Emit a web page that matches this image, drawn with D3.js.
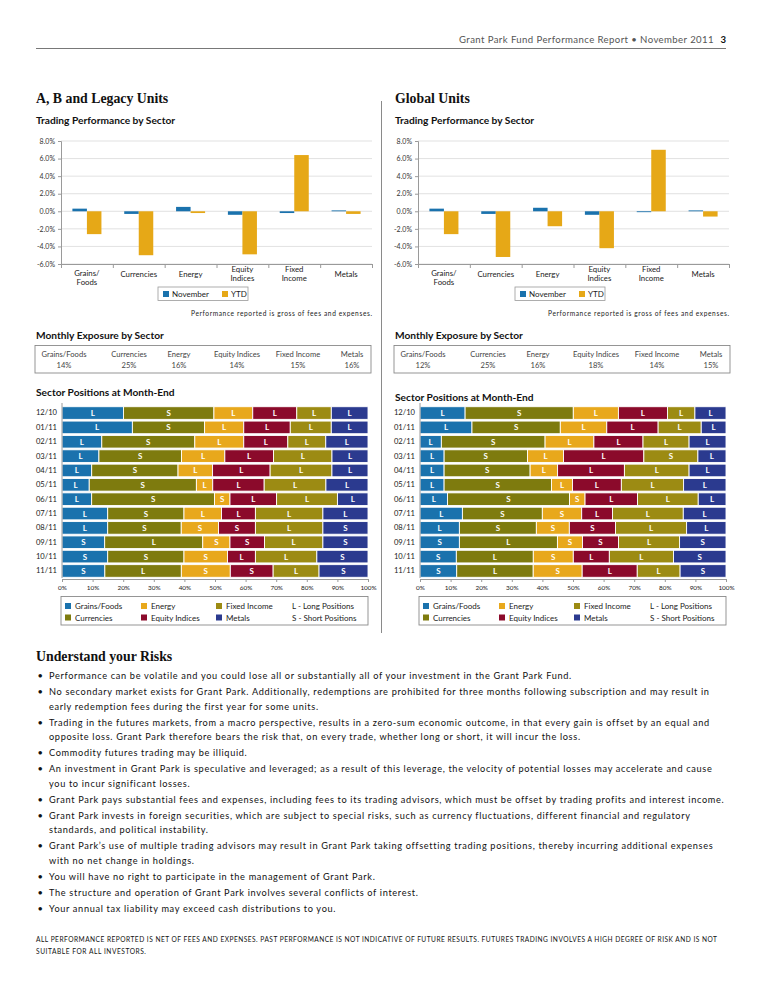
<!DOCTYPE html>
<html lang="en">
<head>
<meta charset="UTF-8">
<title>Grant Park Fund Performance Report</title>
<script src="https://cdnjs.cloudflare.com/ajax/libs/d3/7.8.2/d3.min.js"></script>
<style>
    body{ margin:0; background:#fff; }
    svg{ display:block; font-family: Lato, "Open Sans", sans-serif; }
    .serif{ font-family: "Liberation Serif", "DejaVu Serif", serif; font-weight:bold; }
</style>
</head>
<body>
<div class="container"></div>
<script>
    //data
    let sectors = ['Grains/Foods', 'Currencies', 'Energy', 'Equity Indices', 'Fixed Income', 'Metals'];
    let perfLabels = [['Grains/', 'Foods'], ['Currencies'], ['Energy'], ['Equity', 'Indices'], ['Fixed', 'Income'], ['Metals']];
    let perfTicks = [-6, -4, -2, 0, 2, 4, 6, 8];

    let abNovember = [0.3, -0.3, 0.5, -0.4, -0.2, 0.1];
    let abYTD = [-2.6, -5.0, -0.2, -4.9, 6.4, -0.3];
    let globalNovember = [0.3, -0.3, 0.4, -0.4, -0.1, 0.1];
    let globalYTD = [-2.6, -5.2, -1.7, -4.2, 7.0, -0.6];

    let abExposure = [14, 25, 16, 14, 15, 16];
    let globalExposure = [12, 25, 16, 18, 14, 15];

    let months = ['12/10', '01/11', '02/11', '03/11', '04/11', '05/11', '06/11', '07/11', '08/11', '09/11', '10/11', '11/11'];
    let positionTicks = [0, 0.1, 0.2, 0.3, 0.4, 0.5, 0.6, 0.7, 0.8, 0.9, 1];

    // share of each sector per month (Grains, Currencies, Energy, Equity, Fixed Income, Metals)
    let abPositions = [
        [20.1, 29.6, 12.7, 14.4, 11.3, 12.0],
        [23.0, 23.6, 12.8, 15.2, 13.4, 12.0],
        [13.0, 30.4, 16.0, 14.4, 12.4, 13.8],
        [12.2, 27.3, 14.3, 16.1, 19.3, 11.9],
        [9.8, 28.5, 11.4, 19.0, 20.4, 11.9],
        [9.0, 35.4, 5.4, 17.0, 20.4, 13.9],
        [9.8, 40.6, 5.1, 15.4, 20.1, 10.1],
        [15.1, 25.2, 12.4, 11.2, 22.3, 14.9],
        [15.1, 24.3, 12.3, 12.2, 22.3, 14.9],
        [14.1, 32.4, 9.0, 11.4, 19.3, 14.9],
        [15.1, 25.2, 14.4, 9.2, 20.3, 16.9],
        [14, 25, 16, 14, 15, 16]
    ];
    let abSides = ['LSLLLL', 'LSLLLL', 'LSLLLL', 'LSLLLL', 'LSLLLL', 'LSLLLL',
                   'LSSLLL', 'LSLLLL', 'LSSSLS', 'SLSSLS', 'SSSLLS', 'SLSSLS'];

    let globalPositions = [
        [14.8, 35.5, 14.8, 16.1, 9.0, 10.2],
        [17.0, 28.9, 15.2, 16.8, 14.1, 8.1],
        [7.0, 34.0, 16.0, 16.1, 15.1, 12.1],
        [7.9, 27.3, 11.8, 26.3, 17.7, 9.2],
        [7.9, 28.2, 9.0, 21.9, 21.2, 12.1],
        [7.9, 35.2, 6.9, 16.0, 20.4, 13.9],
        [9.0, 40.0, 5.1, 17.2, 19.9, 9.1],
        [13.9, 26.2, 12.9, 10.1, 23.2, 14.0],
        [12.9, 25.2, 10.8, 15.1, 23.3, 12.9],
        [12.9, 32.1, 8.2, 11.8, 20.0, 15.2],
        [11.9, 25.2, 13.1, 11.8, 21.0, 17.2],
        [12, 25, 16, 18, 14, 15]
    ];
    let globalSides = ['LSLLLL', 'LSLLLL', 'LSLLLL', 'LSLLSL', 'LSLLLL', 'LSLLLL',
                       'LSSLLL', 'LSSLLL', 'LSSSLL', 'SLSSLS', 'SLSLLS', 'SLSLLS'];

    let risks = [
        ['Performance can be volatile and you could lose all or substantially all of your investment in the Grant Park Fund.'],
        ['No secondary market exists for Grant Park. Additionally, redemptions are prohibited for three months following subscription and may result in',
         'early redemption fees during the first year for some units.'],
        ['Trading in the futures markets, from a macro perspective, results in a zero-sum economic outcome, in that every gain is offset by an equal and',
         'opposite loss. Grant Park therefore bears the risk that, on every trade, whether long or short, it will incur the loss.'],
        ['Commodity futures trading may be illiquid.'],
        ['An investment in Grant Park is speculative and leveraged; as a result of this leverage, the velocity of potential losses may accelerate and cause',
         'you to incur significant losses.'],
        ['Grant Park pays substantial fees and expenses, including fees to its trading advisors, which must be offset by trading profits and interest income.'],
        ['Grant Park invests in foreign securities, which are subject to special risks, such as currency fluctuations, different financial and regulatory',
         'standards, and political instability.'],
        ['Grant Park\u2019s use of multiple trading advisors may result in Grant Park taking offsetting trading positions, thereby incurring additional expenses',
         'with no net change in holdings.'],
        ['You will have no right to participate in the management of Grant Park.'],
        ['The structure and operation of Grant Park involves several conflicts of interest.'],
        ['Your annual tax liability may exceed cash distributions to you.']
    ];
    let footer = ['ALL PERFORMANCE REPORTED IS NET OF FEES AND EXPENSES. PAST PERFORMANCE IS NOT INDICATIVE OF FUTURE RESULTS. FUTURES TRADING INVOLVES A HIGH DEGREE OF RISK AND IS NOT',
                  'SUITABLE FOR ALL INVESTORS.'];

    //styles
    let sectorColors = ['#1a72ad', '#7e7b0e', '#e8a81c', '#8b0a2b', '#9c8b13', '#2b3a8f'];
    let novColor = '#1a72ad';
    let ytdColor = '#e6a817';

    let width = 765;
    let height = 990;

    let svg = d3.select('.container').append('svg')
                .attr('width', width).attr('height', height);

    //page header
    svg.append('text').attr('x', 714).attr('y', 43).attr('text-anchor', 'end')
       .attr('font-size', 9.6).attr('fill', '#555').attr('letter-spacing', 0.4)
       .text('Grant Park Fund Performance Report \u2022 November 2011');
    svg.append('text').attr('x', 726).attr('y', 43).attr('text-anchor', 'end')
       .attr('font-size', 9.6).attr('font-weight', 'bold').attr('fill', '#111').text('3');
    svg.append('line').attr('x1', 36).attr('x2', 726).attr('y1', 48.5).attr('y2', 48.5)
       .attr('stroke', '#555').attr('stroke-width', 0.8);

    // divider
    svg.append('line').attr('x1', 381.5).attr('x2', 381.5).attr('y1', 101).attr('y2', 633)
       .attr('stroke', '#8a8a8a').attr('stroke-width', 1);

    const heading = (x, y, txt) => {
        svg.append('text').attr('class', 'serif').attr('x', x).attr('y', y)
           .attr('font-size', 13.8).attr('fill', '#111').text(txt);
    }
    const subHeading = (x, y, txt) => {
        svg.append('text').attr('x', x).attr('y', y).attr('font-size', 10.2)
           .attr('font-weight', 'bold').attr('fill', '#111').text(txt);
    }

    const drawPerformance = (left, nov, ytd) => {
        let plotW = 311;
        let g = svg.append('g');

        let x0 = d3.scaleBand().domain(sectors).range([left, left + plotW])
                   .paddingInner(0.44).paddingOuter(0.22);
        let x1 = d3.scaleBand().domain(['nov', 'ytd']).range([0, x0.bandwidth()]);
        let y = d3.scaleLinear().domain([-6, 8]).range([264, 141]);

        g.append('g').selectAll('line').data(perfTicks).enter().append('line')
         .attr('x1', left).attr('x2', left + plotW)
         .attr('y1', d => y(d)).attr('y2', d => y(d))
         .attr('stroke', '#d9d9d9').attr('stroke-width', 0.8);

        let yAxis = d3.axisLeft(y).tickValues(perfTicks).tickSize(3).tickPadding(3)
                      .tickFormat(d => d.toFixed(1) + '%');
        let gy = g.append('g').attr('transform', `translate(${left},0)`).call(yAxis);
        gy.selectAll('path,line').attr('stroke', '#9a9a9a');
        gy.selectAll('text').attr('font-size', 7).attr('fill', '#333').attr('font-family', 'Lato');

        let bounds = d3.scaleLinear().domain([0, sectors.length]).range([left, left + plotW]);
        let xAxis = d3.axisBottom(bounds).tickValues(d3.range(sectors.length + 1)).tickSize(4).tickFormat('');
        let gx = g.append('g').attr('transform', `translate(0,${y(-6)})`).call(xAxis);
        gx.selectAll('path,line').attr('stroke', '#9a9a9a');

        let groups = g.selectAll('.grp').data(sectors).enter().append('g')
                      .attr('transform', d => `translate(${x0(d)},0)`);
        groups.append('rect')
              .attr('x', x1('nov')).attr('width', x1.bandwidth())
              .attr('y', (d, i) => y(Math.max(0, nov[i])))
              .attr('height', (d, i) => Math.abs(y(nov[i]) - y(0)))
              .attr('fill', novColor);
        groups.append('rect')
              .attr('x', x1('ytd')).attr('width', x1.bandwidth())
              .attr('y', (d, i) => y(Math.max(0, ytd[i])))
              .attr('height', (d, i) => Math.abs(y(ytd[i]) - y(0)))
              .attr('fill', ytdColor);

        // category labels
        g.selectAll('.cat').data(perfLabels).enter().append('text')
         .attr('text-anchor', 'middle').attr('font-size', 7.8).attr('fill', '#222')
         .attr('x', (d, i) => x0(sectors[i]) + x0.bandwidth() / 2)
         .attr('y', (d, i) => d.length > 1 ? (i === 0 ? 276 : 272) : 277)
         .each(function (d) {
             let t = d3.select(this);
             d.forEach((line, k) => {
                 t.append('tspan').attr('x', t.attr('x')).attr('dy', k === 0 ? 0 : 8.8).text(line);
             });
         });

        // legend
        let lx = left + 97;
        g.append('rect').attr('x', lx).attr('y', 287).attr('width', 90).attr('height', 13.5)
         .attr('fill', 'none').attr('stroke', '#9a9a9a').attr('stroke-width', 0.8);
        [['November', novColor, 5], ['YTD', ytdColor, 64]].forEach(item => {
            g.append('rect').attr('x', lx + item[2]).attr('y', 291).attr('width', 6).attr('height', 6).attr('fill', item[1]);
            g.append('text').attr('x', lx + item[2] + 9).attr('y', 297).attr('font-size', 8).attr('fill', '#222').text(item[0]);
        });

        g.append('text').attr('x', left + plotW).attr('y', 315.5).attr('text-anchor', 'end')
         .attr('font-size', 6.6).attr('fill', '#222').attr('textLength', 181).attr('lengthAdjust', 'spacing')
         .text('Performance reported is gross of fees and expenses.');
    }

    const drawExposure = (left, values) => {
        let g = svg.append('g');
        g.append('rect').attr('x', left).attr('y', 345.5).attr('width', 336).attr('height', 27.5)
         .attr('fill', 'none').attr('stroke', '#8a8a8a').attr('stroke-width', 0.9);
        let centers = [29, 94, 144, 202, 263, 317];
        let cols = g.selectAll('.col').data(sectors).enter().append('g');
        cols.append('text').attr('x', (d, i) => left + centers[i]).attr('y', 357)
            .attr('text-anchor', 'middle').attr('font-size', 7.6).attr('fill', '#444').text(d => d);
        cols.append('text').attr('x', (d, i) => left + centers[i]).attr('y', 368)
            .attr('text-anchor', 'middle').attr('font-size', 7.6).attr('fill', '#444').text((d, i) => values[i] + '%');
    }

    const drawPositions = (left, rows, sides) => {
        let g = svg.append('g');
        let x = d3.scaleLinear().domain([0, 1]).range([left, left + 306]);
        let y = d3.scaleBand().domain(months).range([406, 578]).paddingInner(0.12).paddingOuter(0.05);

        let table = rows.map((r, i) => {
            let o = { month: months[i] };
            sectors.forEach((s, j) => o[s] = r[j]);
            return o;
        });
        let series = d3.stack().keys(sectors).offset(d3.stackOffsetExpand)(table);

        series.forEach((s, j) => {
            let seg = g.append('g').selectAll('g').data(s).enter().append('g');
            seg.append('rect')
               .attr('x', d => x(d[0])).attr('width', d => x(d[1]) - x(d[0]))
               .attr('y', d => y(d.data.month)).attr('height', y.bandwidth())
               .attr('fill', sectorColors[j]).attr('stroke', '#fff').attr('stroke-width', 0.9);
            seg.append('text')
               .attr('x', d => (x(d[0]) + x(d[1])) / 2)
               .attr('y', d => y(d.data.month) + y.bandwidth() / 2 + 3)
               .attr('text-anchor', 'middle').attr('font-size', 8).attr('font-weight', 'bold')
               .attr('fill', '#fff').text((d, i) => sides[i][j]);
        });

        let yAxis = d3.axisLeft(y).tickSize(0).tickPadding(5);
        let gy = g.append('g').attr('transform', `translate(${left},0)`).call(yAxis);
        gy.select('path').attr('stroke', '#9a9a9a').attr('d', 'M0,403V578');
        gy.selectAll('text').attr('font-size', 7.6).attr('fill', '#222').attr('font-family', 'Lato');

        let xAxis = d3.axisBottom(x).tickValues(positionTicks).tickSize(3).tickPadding(3)
                      .tickFormat(d3.format('.0%'));
        let gx = g.append('g').attr('transform', 'translate(0,579)').call(xAxis);
        gx.selectAll('path,line').attr('stroke', '#9a9a9a');
        gx.selectAll('text').attr('font-size', 6.4).attr('fill', '#222').attr('font-family', 'Lato');

        // legend
        g.append('rect').attr('x', left - 1).attr('y', 596.5).attr('width', 307).attr('height', 28.5)
         .attr('fill', 'none').attr('stroke', '#8a8a8a').attr('stroke-width', 0.9);
        let colX = [4, 80, 155];
        let order = [[0, 0, 0], [2, 1, 0], [4, 2, 0], [1, 0, 1], [3, 1, 1], [5, 2, 1]];
        order.forEach(o => {
            let sx = left - 1 + colX[o[1]];
            let sy = 603 + o[2] * 11.5;
            g.append('rect').attr('x', sx).attr('y', sy).attr('width', 6).attr('height', 6).attr('fill', sectorColors[o[0]]);
            g.append('text').attr('x', sx + 10).attr('y', sy + 6).attr('font-size', 8).attr('fill', '#222').text(sectors[o[0]]);
        });
        g.append('text').attr('x', left + 230).attr('y', 609).attr('font-size', 8).attr('fill', '#222').text('L - Long Positions');
        g.append('text').attr('x', left + 230).attr('y', 620.5).attr('font-size', 8).attr('fill', '#222').text('S - Short Positions');
    }

    //left column
    heading(36, 103, 'A, B and Legacy Units');
    subHeading(36, 124, 'Trading Performance by Sector');
    drawPerformance(61, abNovember, abYTD);
    subHeading(36, 339, 'Monthly Exposure by Sector');
    drawExposure(35, abExposure);
    subHeading(36, 396, 'Sector Positions at Month-End');
    drawPositions(62, abPositions, abSides);

    //right column
    heading(395, 103, 'Global Units');
    subHeading(395, 124, 'Trading Performance by Sector');
    drawPerformance(418, globalNovember, globalYTD);
    subHeading(395, 339, 'Monthly Exposure by Sector');
    drawExposure(394, globalExposure);
    subHeading(395, 401, 'Sector Positions at Month-End');
    drawPositions(420, globalPositions, globalSides);

    //risks
    heading(36, 661, 'Understand your Risks');
    let riskG = svg.append('g');
    let yPos = 679;
    let riskLines = [];
    risks.forEach((item, i) => {
        if (i > 0) yPos += 16;
        riskG.append('text').attr('x', 37.5).attr('y', yPos).attr('font-size', 9.4).attr('fill', '#111').text('\u2022');
        item.forEach((line, k) => {
            if (k > 0) yPos += 14.6;
            riskLines.push(riskG.append('text').attr('x', 49).attr('y', yPos)
                .attr('font-size', 9.2).attr('fill', '#111').text(line));
        });
    });
    // stretch letter spacing so the widest line reaches the right margin
    let longest = riskLines.reduce((a, t) => t.node().getComputedTextLength() > a.node().getComputedTextLength() ? t : a);
    let spacing = (675 - longest.node().getComputedTextLength()) / longest.text().length;
    riskLines.forEach(t => t.attr('letter-spacing', spacing));

    footer.forEach((line, k) => {
        let t = svg.append('text').attr('x', 36).attr('y', 942 + k * 12).attr('font-size', 6.6)
                   .attr('fill', '#111').text(line);
        if (k === 0) t.attr('textLength', 681).attr('lengthAdjust', 'spacing');
        else t.attr('letter-spacing', 0.55);
    });
</script>
</body>
</html>
